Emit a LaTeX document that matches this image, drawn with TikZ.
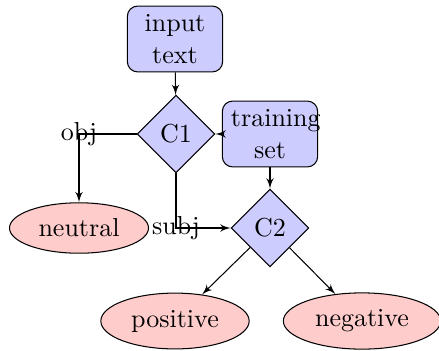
\documentclass[tikz,border=0pt]{standalone}
\usetikzlibrary{shapes.geometric,arrows}
\begin{document}
\begin{tikzpicture}[x=0.3846pt,y=-0.3846pt,
  block/.style={rectangle, draw, fill=blue!20, text width=3em, text centered, rounded corners},
  decision/.style={diamond, draw, fill=blue!20, aspect=1, inner sep=2.6pt},
  cloud/.style={ellipse, draw, fill=red!20},
  line/.style={draw, -latex'}]
\useasboundingbox (0,0) rectangle (439,350);
\node[block] (input) at (175,39) {input text};
\node[decision] (c1) at (176,134) {C1};
\node[block] (train) at (270,134) {training set};
\node[cloud] (neutral) at (79,228) {neutral};
\node[decision] (c2) at (270,228) {C2};
\node[cloud] (pos) at (175,321) {positive};
\node[cloud] (neg) at (362,321) {negative};
\path[line] (input) -- (c1);
\path[line] (train) -- (c1);
\path[line] (c1) -| node {obj} (neutral);
\path[line] (c1) |- node {subj} (c2);
\path[line] (train) -- (c2);
\path[line] (c2) -- (pos);
\path[line] (c2) -- (neg);
\end{tikzpicture}
\end{document}
